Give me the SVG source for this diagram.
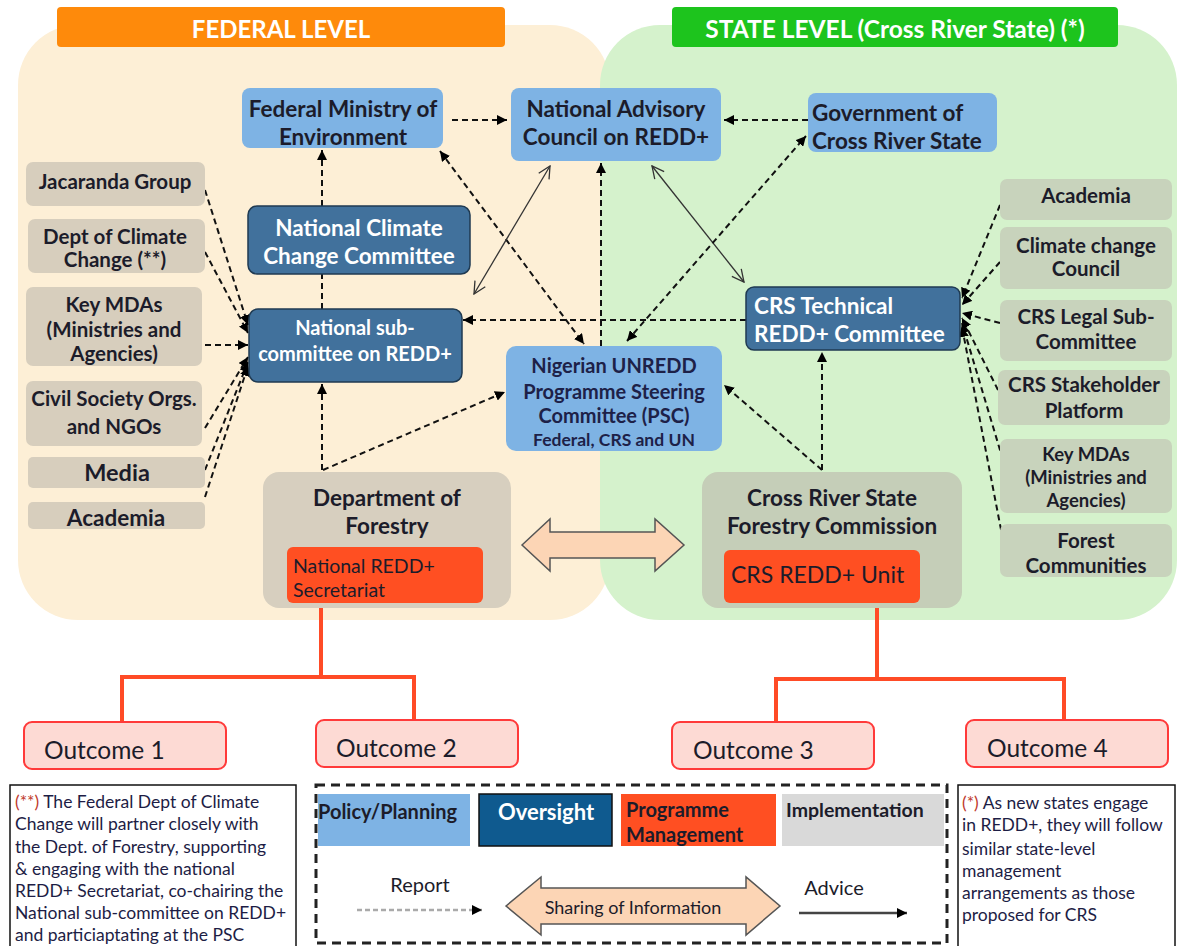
<svg xmlns="http://www.w3.org/2000/svg" width="1179" height="946" viewBox="0 0 1179 946">
<defs>
<style>
.t{font-family:Lato,"Liberation Sans",sans-serif;font-weight:700;font-size:22.5px;fill:#1c1c2a;text-anchor:middle;dominant-baseline:central}
.l{text-anchor:start}
.w{fill:#ffffff}
.n{font-weight:400}
.s20{font-size:20.5px}
.lb{fill:#7EB3E4}
.db{fill:#41719C;stroke:#1f3a52;stroke-width:1.5}
.gy{fill:#D7CEBD}
.gg{fill:#C8D3BC}
.rd{fill:#FF4F22}
.oc{fill:#FDDAD4;stroke:#FF3A3A;stroke-width:2}
.note{font-family:Lato,"Liberation Sans",sans-serif;font-size:17.5px;fill:#1d1d45;dominant-baseline:central}
.dl{fill:none;stroke:#111;stroke-width:2;stroke-dasharray:6 4}
.sl{fill:none;stroke:#333;stroke-width:1.3}
.ol{fill:none;stroke:#FF4B26;stroke-width:4}
</style>
<marker id="ah" viewBox="0 0 10 10" refX="10" refY="5" markerWidth="10" markerHeight="10" markerUnits="userSpaceOnUse" orient="auto-start-reverse"><path d="M0,0 L10,5 L0,10 z" fill="#000"/></marker>
<marker id="oa" viewBox="0 0 14 14" refX="13" refY="7" markerWidth="14" markerHeight="14" markerUnits="userSpaceOnUse" orient="auto-start-reverse"><path d="M1,1 L13,7 L1,13" fill="none" stroke="#333" stroke-width="1.3"/></marker>
</defs>

<!-- backgrounds -->
<g id="federal-panel">
<rect x="18" y="25" width="592" height="595" rx="60" fill="#FDEFD6"/>
</g>
<g id="state-panel">
<rect x="600" y="25" width="577" height="595" rx="60" fill="#D5F2CC"/>
</g>
<g id="federal-header">
<rect x="57" y="7" width="448" height="40" rx="4" fill="#FE8A0B"/>
<text class="t w" x="281" y="28" style="font-size:24px">FEDERAL LEVEL</text>
</g>
<g id="state-header">
<rect x="672" y="7" width="446" height="40" rx="4" fill="#1DC41D"/>
<text class="t w" x="895" y="28" style="font-size:24.5px">STATE LEVEL (Cross River State) (*)</text>
</g>

<!-- connectors -->
<g id="connectors">
<path class="dl" d="M452,120 L507,120" marker-end="url(#ah)"/>
<path class="dl" d="M808,120 L724,120" marker-end="url(#ah)"/>
<path class="dl" d="M322,206 L322,150" marker-end="url(#ah)"/>
<path class="dl" d="M322,309 L322,274"/>
<path class="dl" d="M322,470 L322,384" marker-end="url(#ah)"/>
<path class="dl" d="M323,470 L505,392" marker-end="url(#ah)"/>
<path class="dl" d="M440,151 L584,344" marker-start="url(#ah)" marker-end="url(#ah)"/>
<path class="sl" d="M550,166 L474,294" marker-start="url(#oa)" marker-end="url(#oa)"/>
<path class="dl" d="M601,346 L601,163" marker-end="url(#ah)"/>
<path class="dl" d="M746,320 L463,320" marker-end="url(#ah)"/>
<path class="sl" d="M652,166 L744,282" marker-start="url(#oa)" marker-end="url(#oa)"/>
<path class="dl" d="M627,341 L806,136" marker-start="url(#ah)" marker-end="url(#ah)"/>
<path class="dl" d="M822,470 L822,352" marker-end="url(#ah)"/>
<path class="dl" d="M822,470 L724,385" marker-end="url(#ah)"/>
<path class="dl" d="M205,190 L248,325" marker-end="url(#ah)"/>
<path class="dl" d="M205,252 L248,333" marker-end="url(#ah)"/>
<path class="dl" d="M205,345 L248,345" marker-end="url(#ah)"/>
<path class="dl" d="M205,428 L248,357" marker-end="url(#ah)"/>
<path class="dl" d="M205,470 L248,362" marker-end="url(#ah)"/>
<path class="dl" d="M205,497 L248,366" marker-end="url(#ah)"/>
<path class="dl" d="M1000,205 L962,298" marker-end="url(#ah)"/>
<path class="dl" d="M1000,262 L962,305" marker-end="url(#ah)"/>
<path class="dl" d="M1000,323 L962,313" marker-end="url(#ah)"/>
<path class="dl" d="M998,390 L962,318" marker-end="url(#ah)"/>
<path class="dl" d="M1003,460 L962,323" marker-end="url(#ah)"/>
<path class="dl" d="M1003,540 L962,327" marker-end="url(#ah)"/>
<path class="ol" d="M321,603 V677 M122,722 V677 H414 V720"/>
<path class="ol" d="M877,603 V679 M776,722 V679 H1064 V720"/>
<path d="M522,545 L550,519 L550,532 L655,532 L655,519 L684,545 L655,571 L655,558 L550,558 L550,571 Z" fill="#FCD5B5" stroke="#555" stroke-width="1.5"/>
</g>

<!-- federal nodes -->
<g id="fme"><rect class="lb" x="242" y="88" width="201" height="60" rx="8"/>
<text class="t" x="343" y="108">Federal Ministry of</text><text class="t" x="343" y="136">Environment</text></g>
<g id="nac"><rect class="lb" x="511" y="88" width="210" height="73" rx="8"/>
<text class="t" x="616" y="108">National Advisory</text><text class="t" x="616" y="136">Council on REDD+</text></g>
<g id="gov-crs"><rect class="lb" x="808" y="93" width="189" height="59" rx="8"/>
<text class="t l" x="812" y="112">Government of</text><text class="t l" x="812" y="140">Cross River State</text></g>
<g id="nccc"><rect class="db" x="248" y="206" width="222" height="68" rx="9"/>
<text class="t w" x="359" y="227">National Climate</text><text class="t w" x="359" y="255">Change Committee</text></g>
<g id="nsc"><rect class="db" x="249" y="309" width="213" height="73" rx="9"/>
<text class="t w" x="355" y="327" style="font-size:20px">National sub-</text><text class="t w" x="355" y="353" style="font-size:20px">committee on REDD+</text></g>
<g id="psc"><rect class="lb" x="506" y="346" width="216" height="105" rx="10"/>
<text class="t" x="614" y="365" style="fill:#1d2148;font-size:20px">Nigerian UNREDD</text>
<text class="t" x="614" y="391" style="fill:#1d2148;font-size:20px">Programme Steering</text>
<text class="t" x="614" y="415" style="fill:#1d2148;font-size:20px">Committee (PSC)</text>
<text class="t" x="614" y="439" style="fill:#1d2148;font-size:17.5px">Federal, CRS and UN</text></g>
<g id="crs-tech"><rect class="db" x="746" y="287" width="214" height="63" rx="8"/>
<text class="t w l" x="754" y="305">CRS Technical</text><text class="t w l" x="754" y="333">REDD+ Committee</text></g>

<g id="jacaranda"><rect class="gy" x="26" y="162" width="179" height="44" rx="7"/>
<text class="t s20" x="115" y="181">Jacaranda Group</text></g>
<g id="dcc"><rect class="gy" x="28" y="219" width="177" height="54" rx="7"/>
<text class="t s20" x="115" y="236">Dept of Climate</text><text class="t s20" x="115" y="259">Change (**)</text></g>
<g id="key-mdas-fed"><rect class="gy" x="26" y="287" width="176" height="79" rx="7"/>
<text class="t s20" x="114" y="304">Key MDAs</text><text class="t s20" x="114" y="329">(Ministries and</text><text class="t s20" x="114" y="353">Agencies)</text></g>
<g id="cso"><rect class="gy" x="26" y="381" width="176" height="65" rx="7"/>
<text class="t s20" x="114" y="398">Civil Society Orgs.</text><text class="t s20" x="114" y="426">and NGOs</text></g>
<g id="media"><rect class="gy" x="28" y="457" width="177" height="31" rx="5"/>
<text class="t" x="117" y="472" style="font-size:23.5px">Media</text></g>
<g id="academia-fed"><rect class="gy" x="28" y="502" width="177" height="27" rx="5"/>
<text class="t" x="116" y="517" style="font-size:22.5px">Academia</text></g>

<g id="dept-forestry"><rect x="263" y="472" width="248" height="136" rx="16" fill="#D7CFBF"/>
<text class="t" x="387" y="497">Department of</text><text class="t" x="387" y="525">Forestry</text>
<rect class="rd" x="287" y="547" width="196" height="56" rx="6"/>
<text class="t l n" x="293" y="565" style="font-size:19.5px">National REDD+</text><text class="t l n" x="293" y="589" style="font-size:19.5px">Secretariat</text></g>

<!-- state nodes -->
<g id="crs-fc"><rect x="702" y="472" width="260" height="136" rx="16" fill="#C5CEB8"/>
<text class="t" x="832" y="497">Cross River State</text><text class="t" x="832" y="525">Forestry Commission</text>
<rect class="rd" x="724" y="550" width="196" height="53" rx="6"/>
<text class="t l n" x="731" y="574" style="font-size:23px">CRS REDD+ Unit</text></g>

<g id="academia-state"><rect class="gg" x="1000" y="179" width="172" height="41" rx="7"/>
<text class="t s20" x="1086" y="195">Academia</text></g>
<g id="cc-council"><rect class="gg" x="1000" y="227" width="172" height="62" rx="7"/>
<text class="t s20" x="1086" y="245">Climate change</text><text class="t s20" x="1086" y="268">Council</text></g>
<g id="crs-legal"><rect class="gg" x="1000" y="300" width="172" height="61" rx="7"/>
<text class="t s20" x="1086" y="316">CRS Legal Sub-</text><text class="t s20" x="1086" y="341">Committee</text></g>
<g id="crs-stakeholder"><rect class="gg" x="998" y="370" width="172" height="55" rx="7"/>
<text class="t s20" x="1084" y="384">CRS Stakeholder</text><text class="t s20" x="1084" y="410">Platform</text></g>
<g id="key-mdas-state"><rect class="gg" x="1000" y="439" width="172" height="74" rx="7"/>
<text class="t" x="1086" y="454" style="font-size:18.5px">Key MDAs</text><text class="t" x="1086" y="477" style="font-size:18.5px">(Ministries and</text><text class="t" x="1086" y="500" style="font-size:18.5px">Agencies)</text></g>
<g id="forest-communities"><rect class="gg" x="1000" y="524" width="172" height="53" rx="7"/>
<text class="t s20" x="1086" y="540">Forest</text><text class="t s20" x="1086" y="565">Communities</text></g>

<!-- outcomes -->
<g id="outcome1"><rect class="oc" x="24" y="722" width="202" height="47" rx="8"/><text class="t l n" x="44" y="749" style="font-size:24.5px">Outcome 1</text></g>
<g id="outcome2"><rect class="oc" x="316" y="720" width="202" height="47" rx="8"/><text class="t l n" x="336" y="747" style="font-size:24.5px">Outcome 2</text></g>
<g id="outcome3"><rect class="oc" x="672" y="722" width="202" height="47" rx="8"/><text class="t l n" x="693" y="749" style="font-size:24.5px">Outcome 3</text></g>
<g id="outcome4"><rect class="oc" x="966" y="720" width="202" height="47" rx="8"/><text class="t l n" x="987" y="747" style="font-size:24.5px">Outcome 4</text></g>

<!-- notes -->
<g id="note-left"><rect x="10" y="785" width="286" height="165" fill="#fff" stroke="#111" stroke-width="1.5"/>
<text class="note" x="15" y="801"><tspan fill="#c0392b">(**)</tspan> The Federal Dept of Climate</text>
<text class="note" x="15" y="823">Change will partner closely with</text>
<text class="note" x="15" y="846">the Dept. of Forestry, supporting</text>
<text class="note" x="15" y="868">&amp; engaging with the national</text>
<text class="note" x="15" y="890">REDD+ Secretariat, co-chairing the</text>
<text class="note" x="15" y="912">National sub-committee on REDD+</text>
<text class="note" x="15" y="934">and particiaptating at the PSC</text></g>
<g id="note-right"><rect x="958" y="785" width="217" height="165" fill="#fff" stroke="#111" stroke-width="1.5"/>
<text class="note" x="962" y="802"><tspan fill="#c0392b">(*)</tspan> As new states engage</text>
<text class="note" x="962" y="824">in REDD+, they will follow</text>
<text class="note" x="962" y="848">similar state-level</text>
<text class="note" x="962" y="870">management</text>
<text class="note" x="962" y="892">arrangements as those</text>
<text class="note" x="962" y="914">proposed for CRS</text></g>

<!-- legend -->
<g id="legend">
<rect x="316" y="785" width="631" height="158" fill="#fff" stroke="#222" stroke-width="3" stroke-dasharray="9 6"/>
<rect x="318" y="794" width="152" height="52" fill="#7EB3E4"/>
<text class="t l" x="318" y="811" style="font-size:20px">Policy/Planning</text>
<rect x="479" y="794" width="133" height="52" fill="#0F5A8F" stroke="#111" stroke-width="1.5"/>
<text class="t w" x="546" y="811" style="font-size:22px">Oversight</text>
<rect x="621" y="794" width="155" height="52" fill="#FF4F22"/>
<text class="t l" x="626" y="809" style="font-size:20px">Programme</text><text class="t l" x="626" y="834" style="font-size:20px">Management</text>
<rect x="782" y="794" width="162" height="52" fill="#D9D9D9"/>
<text class="t l" x="786" y="809" style="font-size:19.5px">Implementation</text>
<text class="t n" x="420" y="884" style="font-size:20px">Report</text>
<path d="M357,910 L482,910" fill="none" stroke="#aaa" stroke-width="2.5" stroke-dasharray="5 3" marker-end="url(#ah)"/>
<path d="M506,906 L541,877 L541,888 L746,888 L746,877 L780,906 L746,935 L746,924 L541,924 L541,935 Z" fill="#FCD5B5" stroke="#555" stroke-width="1.5"/>
<text class="t n" x="633" y="907" style="font-size:18px">Sharing of Information</text>
<text class="t n" x="834" y="887" style="font-size:20px">Advice</text>
<path d="M799,913 L907,913" fill="none" stroke="#444" stroke-width="2.5" marker-end="url(#ah)"/>
</g>
</svg>
